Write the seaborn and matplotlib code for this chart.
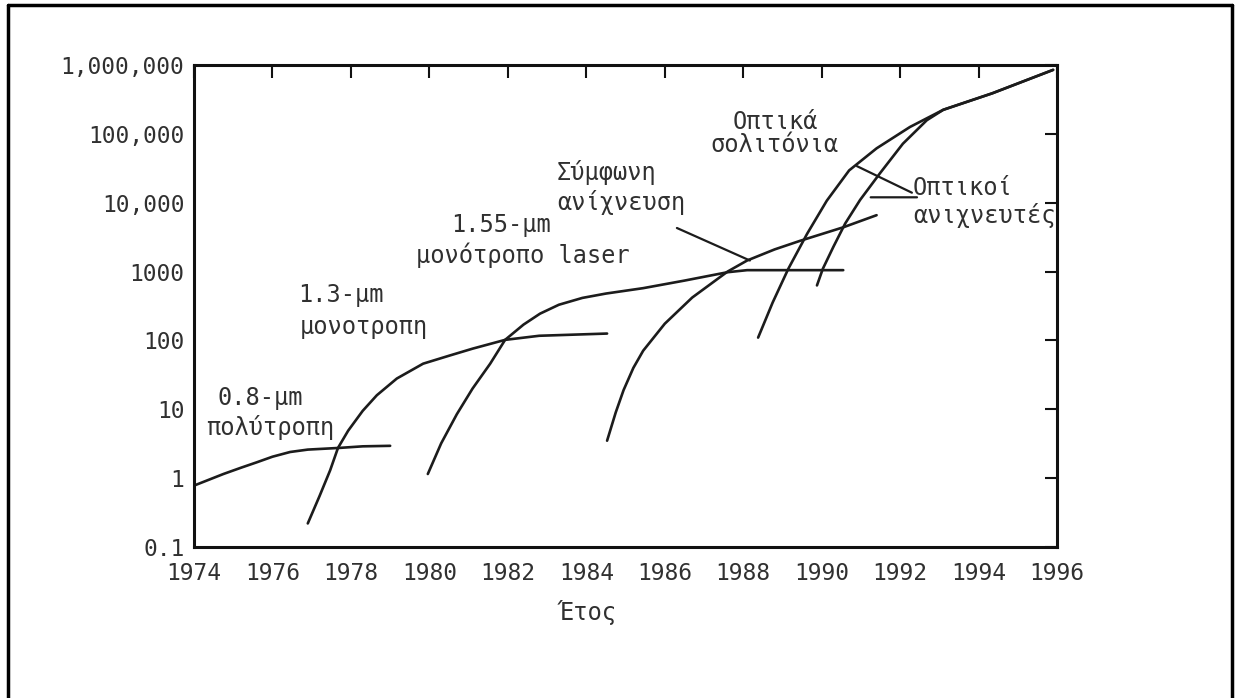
import matplotlib
matplotlib.use("Agg")
import numpy as np
import pandas as pd
import matplotlib.pyplot as plt
import seaborn as sns
from matplotlib.lines import Line2D
from matplotlib.ticker import NullLocator

# ---- data (bit-rate x distance vs year) ----
years_08 = [1974.0, 1974.75, 1975.2, 1975.6, 1976.0, 1976.45, 1976.9, 1977.7, 1978.3, 1979.0]
rate_08 = [0.78, 1.15, 1.42, 1.7, 2.05, 2.4, 2.6, 2.75, 2.9, 2.95]

years_13 = [1976.9, 1977.2, 1977.47, 1977.67, 1977.93, 1978.3, 1978.66, 1979.17, 1979.84, 1980.5, 1981.1, 1981.93, 1982.8, 1984.53]
rate_13 = [0.22, 0.55, 1.3, 2.75, 4.9, 9.5, 16, 28, 46, 60, 76, 102, 117, 126]

years_155 = [1979.96, 1980.3, 1980.7, 1981.1, 1981.55, 1981.93, 1982.4, 1982.82, 1983.3, 1983.9, 1984.5, 1985.45, 1986.5, 1987.6, 1988.1, 1989.3, 1990.55]
rate_155 = [1.15, 3.2, 8.5, 20, 46, 102, 170, 245, 330, 415, 480, 575, 740, 980, 1050, 1050, 1050]

years_coh = [1984.53, 1984.75, 1984.95, 1985.2, 1985.45, 1986.0, 1986.7, 1987.6, 1988.1, 1988.8, 1989.45, 1990.55, 1991.4]
rate_coh = [3.5, 9, 19, 40, 71, 175, 420, 1000, 1450, 2100, 2800, 4400, 6600]

years_sol = [1988.38, 1988.75, 1989.15, 1989.63, 1990.13, 1990.7, 1991.4, 1992.25, 1993.1, 1994.35, 1995.9]
rate_sol = [110, 355, 1100, 3550, 10700, 29500, 61700, 126000, 224000, 389000, 851000]

years_amp = [1989.88, 1990.03, 1990.3, 1990.6, 1990.98, 1991.49, 1992.07, 1992.68, 1993.1, 1994.35, 1995.9]
rate_amp = [630, 1100, 2300, 5000, 11000, 27000, 72000, 158000, 224000, 389000, 851000]

x_ticks = [1974, 1976, 1978, 1980, 1982, 1984, 1986, 1988, 1990, 1992, 1994, 1996]
y_ticks = [0.1, 1, 10, 100, 1000, 10000, 100000, 1000000]
y_tick_labels = ["0.1", "1", "10", "100", "1000", "10,000", "100,000", "1,000,000"]

curves = {
    "0.8": (years_08, rate_08),
    "1.3": (years_13, rate_13),
    "1.55": (years_155, rate_155),
    "coherent": (years_coh, rate_coh),
    "solitons": (years_sol, rate_sol),
    "amplifiers": (years_amp, rate_amp),
}
df = pd.concat(
    [pd.DataFrame({"year": x, "rate": y, "curve": k}) for k, (x, y) in curves.items()],
    ignore_index=True,
)

# ---- style ----
sns.set_theme(style="white")
plt.rcParams["font.family"] = ["DejaVu Sans Mono", "DejaVu Sans"]
TXT = "#303030"

fig = plt.figure(figsize=(12.35, 6.98), dpi=100)
fig.patch.set_facecolor("white")
ax = fig.add_axes([0.1571, 0.2163, 0.6988, 0.6905])

sns.lineplot(data=df, x="year", y="rate", units="curve", estimator=None, sort=False,
             color="#1c1c1c", linewidth=1.9, legend=False, ax=ax)

ax.set_yscale("log")
ax.set_xlim(1974, 1996)
ax.set_ylim(0.1, 1e6)
ax.set_xticks(x_ticks)
ax.set_xticklabels([str(t) for t in x_ticks])
ax.set_yticks(y_ticks)
ax.set_yticklabels(y_tick_labels)
ax.yaxis.set_minor_locator(NullLocator())
ax.xaxis.set_minor_locator(NullLocator())

ax.tick_params(axis="both", which="major", direction="in", length=9, width=1.5,
               color="#111111", top=True, right=True, labelsize=16.5, labelcolor=TXT)
ax.tick_params(axis="x", pad=11)
ax.tick_params(axis="y", pad=7)
for s in ax.spines.values():
    s.set_visible(True)
    s.set_linewidth(2.2)
    s.set_color("#111111")

ax.set_xlabel("Έτος", fontsize=17, color=TXT)
ax.xaxis.set_label_coords(0.4566, -0.11)
ax.set_ylabel("")

# ---- curve labels ----
fs = 17
ax.text(1981.83, 4700, "1.55-μm", ha="center", va="center", fontsize=fs, color=TXT)
ax.text(1982.39, 1700, "μονότροπο laser", ha="center", va="center", fontsize=fs, color=TXT)
ax.text(1977.75, 450, "1.3-μm", ha="center", va="center", fontsize=fs, color=TXT)
ax.text(1978.33, 155, "μονοτροπη", ha="center", va="center", fontsize=fs, color=TXT)
ax.text(1975.68, 14.8, "0.8-μm", ha="center", va="center", fontsize=fs, color=TXT)
ax.text(1975.94, 5.4, "πολύτροπη", ha="center", va="center", fontsize=fs, color=TXT)
ax.text(1983.25, 27500, "Σύμφωνη", ha="left", va="center", fontsize=fs, color=TXT)
ax.text(1983.25, 10000, "ανίχνευση", ha="left", va="center", fontsize=fs, color=TXT)
ax.text(1988.81, 148000, "Οπτικά", ha="center", va="center", fontsize=fs, color=TXT)
ax.text(1988.81, 69000, "σολιτόνια", ha="center", va="center", fontsize=fs, color=TXT)
ax.text(1992.33, 16600, "Οπτικοί", ha="left", va="center", fontsize=fs, color=TXT)
ax.text(1992.33, 6600, "ανιχνευτές", ha="left", va="center", fontsize=fs, color=TXT)

# leader lines
lp = dict(arrowstyle="-", lw=1.6, color="#1c1c1c", shrinkA=0, shrinkB=0)
ax.annotate("", xy=(1988.17, 1450), xytext=(1986.31, 4300), arrowprops=lp)
ax.annotate("", xy=(1990.9, 34000), xytext=(1992.3, 14000), arrowprops=lp)
ax.annotate("", xy=(1991.25, 12000), xytext=(1992.43, 12000), arrowprops=lp)

# page border (left, top, right)
for xs, ys in [([0.0065, 0.0065], [0.0, 0.9928]),
               ([0.0065, 0.9976], [0.9928, 0.9928]),
               ([0.9976, 0.9976], [0.9928, 0.0])]:
    fig.add_artist(Line2D(xs, ys, transform=fig.transFigure, color="black", lw=2.5))

fig.savefig("out.png", dpi=100, facecolor="white")
